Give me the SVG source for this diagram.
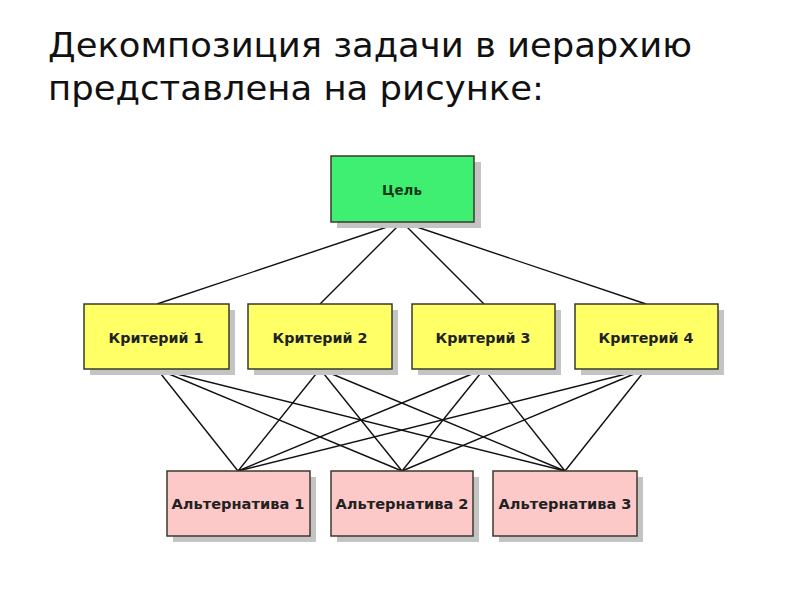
<svg xmlns="http://www.w3.org/2000/svg" width="800" height="600" viewBox="0 0 800 600">
<style>
.title{font-family:"DejaVu Sans",Verdana,sans-serif;font-size:33px;fill:#111}
.shadow{fill:#c4c4c4}
.box{stroke:#3a3a2a;stroke-width:1.5}
.goal{fill:#3fef72}
.crit{fill:#ffff66}
.alt{fill:#fcc8c8}
.lbl{font-family:"DejaVu Sans",Verdana,sans-serif;font-size:14px;font-weight:bold;fill:#222;text-anchor:middle}
.edge{stroke:#111;stroke-width:1.4;fill:none}
</style>
<rect width="800" height="600" fill="#fff"/>
<text class="title" x="48" y="57" textLength="644" lengthAdjust="spacingAndGlyphs">Декомпозиция задачи в иерархию</text>
<text class="title" x="48" y="100" textLength="496" lengthAdjust="spacingAndGlyphs">представлена на рисунке:</text>
<g id="connectors">
<line class="edge" x1="402" y1="222" x2="157" y2="304"/>
<line class="edge" x1="402" y1="222" x2="320" y2="304"/>
<line class="edge" x1="402" y1="222" x2="484" y2="304"/>
<line class="edge" x1="402" y1="222" x2="646" y2="304"/>
<line class="edge" x1="157" y1="369" x2="238" y2="471"/>
<line class="edge" x1="157" y1="369" x2="402" y2="471"/>
<line class="edge" x1="157" y1="369" x2="565" y2="471"/>
<line class="edge" x1="320" y1="369" x2="238" y2="471"/>
<line class="edge" x1="320" y1="369" x2="402" y2="471"/>
<line class="edge" x1="320" y1="369" x2="565" y2="471"/>
<line class="edge" x1="484" y1="369" x2="238" y2="471"/>
<line class="edge" x1="484" y1="369" x2="402" y2="471"/>
<line class="edge" x1="484" y1="369" x2="565" y2="471"/>
<line class="edge" x1="646" y1="369" x2="238" y2="471"/>
<line class="edge" x1="646" y1="369" x2="402" y2="471"/>
<line class="edge" x1="646" y1="369" x2="565" y2="471"/>
</g>
<g id="goal">
<rect class="shadow" x="337" y="162" width="144" height="66"/>
<rect class="box goal" x="331" y="156" width="143" height="66"/>
<text class="lbl" x="402" y="195" style="fill:#123a18" textLength="40" lengthAdjust="spacingAndGlyphs">Цель</text>
</g>
<g id="crit1">
<rect class="shadow" x="90" y="310" width="145" height="65"/>
<rect class="box crit" x="84" y="304" width="145" height="65"/>
<text class="lbl" x="156" y="343" textLength="95" lengthAdjust="spacingAndGlyphs">Критерий 1</text>
</g>
<g id="crit2">
<rect class="shadow" x="254" y="310" width="144" height="65"/>
<rect class="box crit" x="248" y="304" width="144" height="65"/>
<text class="lbl" x="320" y="343" textLength="95" lengthAdjust="spacingAndGlyphs">Критерий 2</text>
</g>
<g id="crit3">
<rect class="shadow" x="418" y="310" width="143" height="65"/>
<rect class="box crit" x="412" y="304" width="143" height="65"/>
<text class="lbl" x="483" y="343" textLength="95" lengthAdjust="spacingAndGlyphs">Критерий 3</text>
</g>
<g id="crit4">
<rect class="shadow" x="581" y="310" width="143" height="65"/>
<rect class="box crit" x="575" y="304" width="143" height="65"/>
<text class="lbl" x="646" y="343" textLength="95" lengthAdjust="spacingAndGlyphs">Критерий 4</text>
</g>
<g id="alt1">
<rect class="shadow" x="173" y="477" width="143" height="65"/>
<rect class="box alt" x="167" y="471" width="143" height="65"/>
<text class="lbl" x="238" y="509" textLength="133" lengthAdjust="spacingAndGlyphs">Альтернатива 1</text>
</g>
<g id="alt2">
<rect class="shadow" x="337" y="477" width="142" height="65"/>
<rect class="box alt" x="331" y="471" width="142" height="65"/>
<text class="lbl" x="402" y="509" textLength="133" lengthAdjust="spacingAndGlyphs">Альтернатива 2</text>
</g>
<g id="alt3">
<rect class="shadow" x="499" y="477" width="144" height="65"/>
<rect class="box alt" x="493" y="471" width="144" height="65"/>
<text class="lbl" x="565" y="509" textLength="133" lengthAdjust="spacingAndGlyphs">Альтернатива 3</text>
</g>
</svg>
